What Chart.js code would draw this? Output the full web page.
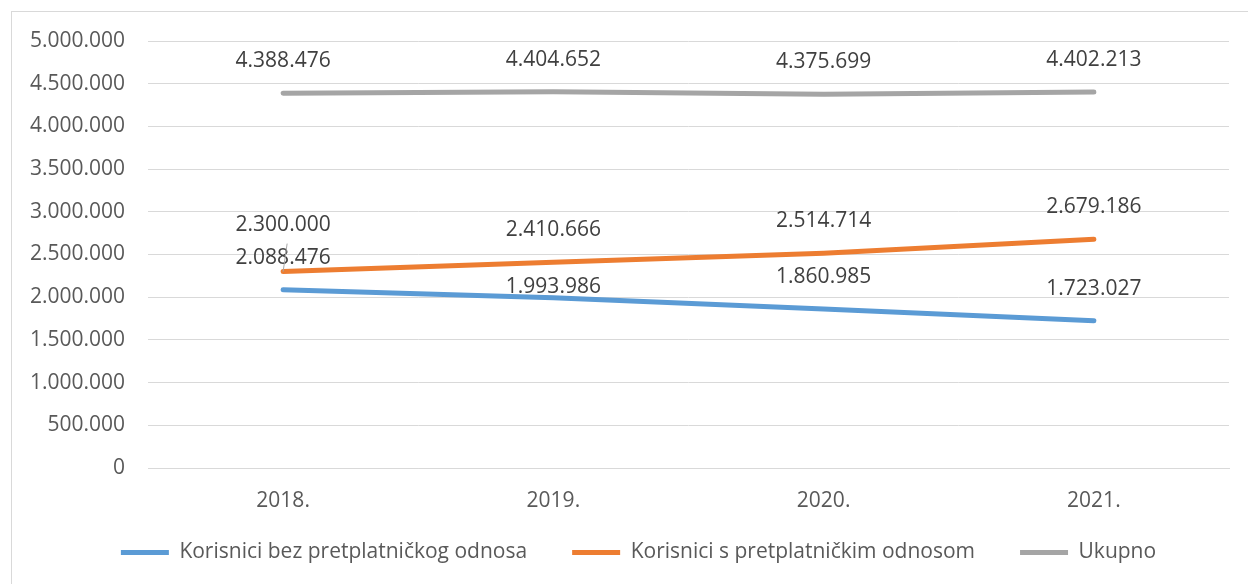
<!DOCTYPE html>
<html>
<head>
<meta charset="utf-8">
<script src="https://cdn.jsdelivr.net/npm/chart.js@4.4.0/dist/chart.umd.min.js"></script>
<style>
  body { margin: 0; background: #fff; }
  #wrap { position: relative; width: 1248px; height: 584px; overflow: hidden; }
  #frame { position: absolute; left: 11px; top: 11px; width: 1260px; height: 600px; border: 1px solid #d9d9d9; }
  #chart { position: absolute; left: 0; top: 0; }
</style>
</head>
<body>
<div id="wrap">
  <div id="frame"></div>
  <canvas id="chart" width="1248" height="584"></canvas>
</div>
<script>
var categories = ["2018.", "2019.", "2020.", "2021."];
var bezPretplate = [2088476, 1993986, 1860985, 1723027];
var sPretplatom = [2300000, 2410666, 2514714, 2679186];
var ukupno = [4388476, 4404652, 4375699, 4402213];

function fmt(v) {
    return String(Math.round(v)).replace(/\B(?=(\d{3})+(?!\d))/g, ".");
}

var labelFont = '21px "Open Sans"';

// data labels above each point, a few moved like in the original
var dataLabels = {
    id: 'dataLabels',
    afterDatasetsDraw: function(chart, args, opts) {
        var ctx = chart.ctx;
        ctx.save();
        ctx.font = labelFont;
        ctx.fillStyle = '#404040';
        ctx.textAlign = 'center';
        ctx.textBaseline = 'middle';
        chart.data.datasets.forEach(function(ds, di) {
            chart.getDatasetMeta(di).data.forEach(function(pt, i) {
                var off = opts.moved[di + '-' + i] || opts.offset;
                var ty = pt.y - off;
                ctx.fillText(fmt(ds.data[i]), pt.x, ty);
                if (opts.leader[di + '-' + i]) {
                    ctx.strokeStyle = '#a6a6a6';
                    ctx.lineWidth = 1;
                    ctx.beginPath();
                    ctx.moveTo(pt.x + 4, ty + 19);
                    ctx.lineTo(pt.x, pt.y);
                    ctx.stroke();
                }
            });
        });
        ctx.restore();
    }
};

// nudge the legend to where it sits in the original
var shiftLegend = {
    id: 'shiftLegend',
    afterLayout: function(chart) {
        chart.legend.left += 24;
        chart.legend.right += 24;
        chart.legend.top -= 10;
        chart.legend.bottom -= 10;
    }
};

function series(label, data, color) {
    return {
        label: label,
        data: data,
        borderColor: color,
        backgroundColor: color,
        borderWidth: 5,
        borderCapStyle: 'round',
        borderJoinStyle: 'round'
    };
}

var ctx = document.getElementById("chart").getContext('2d');
var myChart = new Chart(ctx, {
    type: 'line',
    data: {
        labels: categories,
        datasets: [
            series('Korisnici bez pretplatničkog odnosa', bezPretplate, '#5b9bd5'),
            series('Korisnici s pretplatničkim odnosom', sPretplatom, '#ed7d31'),
            series('Ukupno', ukupno, '#a5a5a5')
        ]
    },
    plugins: [dataLabels, shiftLegend],
    options: {
        responsive: false,
        animation: false,
        layout: { padding: { left: 0, right: 19, top: 41, bottom: 1 } },
        elements: {
            line: { tension: 0 },
            point: { radius: 0, hoverRadius: 0 }
        },
        scales: {
            x: {
                offset: true,
                grid: { display: false, drawTicks: false },
                border: { color: '#d9d9d9', width: 1 },
                ticks: { color: '#595959', font: { family: 'Open Sans', size: 21 }, padding: 20 },
                afterFit: function(s) { s.height = 39; }
            },
            y: {
                min: 0,
                max: 5000000,
                grid: { color: '#d9d9d9', lineWidth: 1, drawTicks: false },
                border: { display: false },
                ticks: {
                    stepSize: 500000,
                    color: '#595959',
                    font: { family: 'Open Sans', size: 21 },
                    padding: 23,
                    callback: function(v) { return fmt(v); }
                },
                afterFit: function(s) { s.width = 148; }
            }
        },
        plugins: {
            legend: {
                position: 'bottom',
                labels: {
                    usePointStyle: true,
                    pointStyle: 'line',
                    pointStyleWidth: 48,
                    padding: 45,
                    color: '#595959',
                    font: { family: 'Open Sans', size: 21 }
                }
            },
            tooltip: { enabled: false },
            dataLabels: {
                offset: 32,
                moved: { '0-1': 11, '1-0': 47 },
                leader: { '1-0': true }
            }
        }
    }
});
</script>
</body>
</html>
